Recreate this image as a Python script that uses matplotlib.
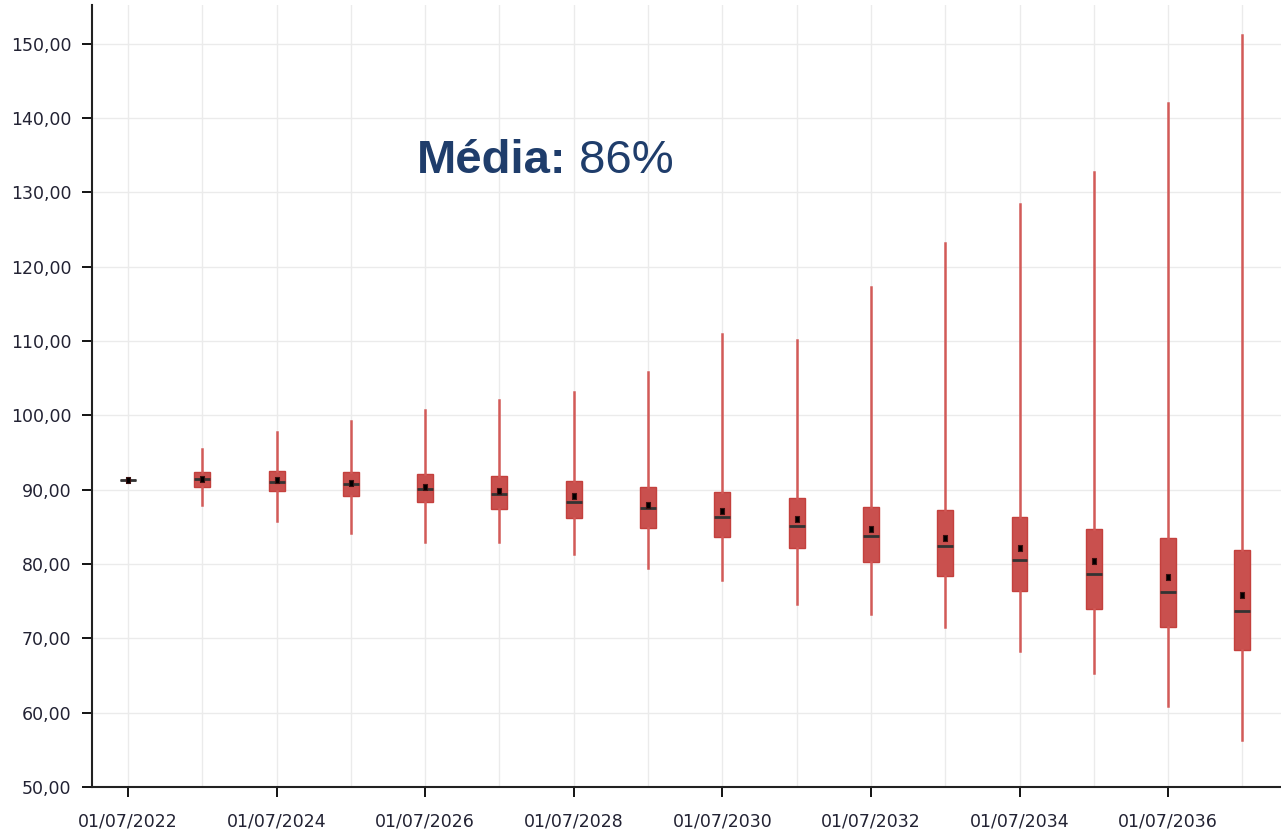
import numpy as np
import matplotlib.pyplot as plt

# Categories (one box per year) and box statistics
dates = ["01/07/2022", "01/07/2023", "01/07/2024", "01/07/2025", "01/07/2026", "01/07/2027",
         "01/07/2028", "01/07/2029", "01/07/2030", "01/07/2031", "01/07/2032", "01/07/2033",
         "01/07/2034", "01/07/2035", "01/07/2036", "01/07/2037"]
whis_low = [91.3, 87.9, 85.8, 84.2, 82.9, 82.9, 81.3, 79.5, 77.8, 74.6, 73.3, 71.5, 68.3, 65.3, 60.9, 56.3]
q1 = [91.3, 90.4, 89.8, 89.1, 88.3, 87.4, 86.2, 84.9, 83.6, 82.1, 80.3, 78.4, 76.4, 73.9, 71.5, 68.4]
median = [91.3, 91.4, 91.0, 90.7, 90.1, 89.4, 88.4, 87.5, 86.3, 85.1, 83.8, 82.4, 80.6, 78.7, 76.3, 73.7]
mean = [91.3, 91.5, 91.3, 90.9, 90.4, 89.8, 89.1, 88.0, 87.1, 86.0, 84.7, 83.5, 82.1, 80.4, 78.2, 75.8]
q3 = [91.3, 92.4, 92.5, 92.4, 92.1, 91.9, 91.2, 90.3, 89.7, 88.9, 87.7, 87.2, 86.3, 84.7, 83.5, 81.9]
whis_high = [91.3, 95.5, 97.7, 99.2, 100.7, 102.0, 103.1, 105.8, 110.9, 110.2, 117.2, 123.2, 128.4, 132.8, 142.0, 151.1]

stats = []
for i in range(len(dates)):
    stats.append(dict(label=dates[i], whislo=whis_low[i], q1=q1[i], med=median[i],
                      mean=mean[i], q3=q3[i], whishi=whis_high[i], fliers=[]))

fig = plt.figure(figsize=(12.81, 8.31), dpi=100)
ax = fig.add_axes([92 / 1281, 44 / 831, 1 - 92 / 1281, 1 - 49 / 831])

# small upright rectangle for the mean
mean_marker = [(-0.55, -1), (0.55, -1), (0.55, 1), (-0.55, 1), (-0.55, -1)]

pos = np.arange(len(dates))
bp = ax.bxp(stats, positions=pos, widths=0.215, patch_artist=True,
            showmeans=True, showcaps=False, showfliers=False,
            boxprops=dict(facecolor='#C9504E', edgecolor='#C4403D', linewidth=1),
            whiskerprops=dict(color='#D25A58', linewidth=1.8),
            medianprops=dict(color='#333333', linewidth=2),
            meanprops=dict(marker=mean_marker, markersize=5, markerfacecolor='black',
                           markeredgecolor='#3a1010', markeredgewidth=0.8),
            zorder=3)

# first date is a single point, drawn as a black cross
bp['boxes'][0].set_edgecolor('#333333')
bp['medians'][0].set_color('#333333')

ax.set_xlim(-0.485, 15.52)
ax.set_ylim(50, 155.2)

# grid at every category and every 10 units
ax.set_yticks(np.arange(50, 151, 10))
ax.set_yticklabels(["{:.2f}".format(v).replace('.', ',') for v in np.arange(50, 151, 10)])
ax.set_xticks(pos[::2])
ax.set_xticklabels(dates[::2])
ax.set_xticks(pos, minor=True)
ax.grid(True, which='both', axis='x', color='#EBEBEB', linewidth=1, zorder=0)
ax.grid(True, which='major', axis='y', color='#EBEBEB', linewidth=1, zorder=0)
ax.set_axisbelow(True)

ax.tick_params(axis='y', direction='out', length=7, width=1.3, pad=8, labelsize=12.5, labelcolor='#222233')
ax.tick_params(axis='x', which='major', direction='out', length=7, width=1.3, pad=11, labelsize=12.5, labelcolor='#222233')
ax.tick_params(axis='x', which='minor', length=0)

for side in ['top', 'right']:
    ax.spines[side].set_visible(False)
for side in ['left', 'bottom']:
    ax.spines[side].set_linewidth(1.5)
    ax.spines[side].set_color('#222222')

# annotation
t1 = fig.text(417 / 1281, 1 - 173 / 831, "Média:", fontsize=34, fontweight='bold',
              color='#1F3D6B', family='Liberation Sans', va='baseline')
ax.annotate(" 86%", xy=(1, 0), xycoords=t1, va='bottom', ha='left', fontsize=34,
            color='#1F3D6B', family='Liberation Sans')

plt.savefig('out.png', dpi=100)
plt.close()
